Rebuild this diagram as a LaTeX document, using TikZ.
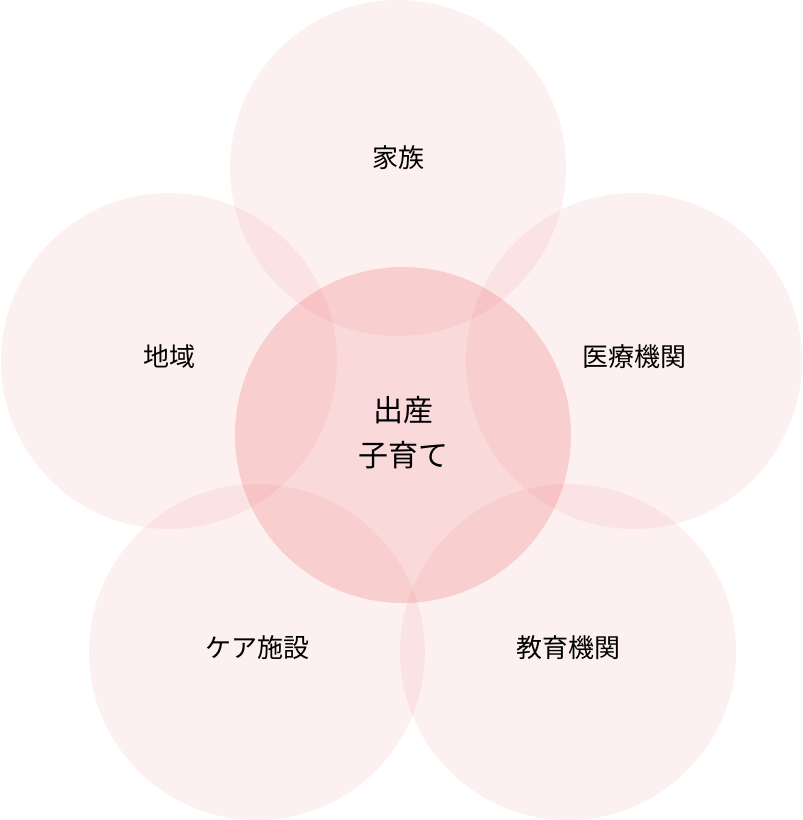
\documentclass[tikz,border=0pt]{standalone}
\usepackage{fontspec}
\setmainfont{Noto Sans CJK JP}
\definecolor{petal}{RGB}{232,84,88}
\begin{document}
\begin{tikzpicture}[x=1pt,y=-1pt,
  outer/.style={fill=petal,fill opacity=0.085,draw=none},
  inner/.style={fill=petal,fill opacity=0.22,draw=none},
  lbl/.style={font=\fontsize{26}{30}\selectfont,text=black,inner sep=0pt},
  clbl/.style={font=\fontsize{30}{45}\selectfont,text=black,inner sep=0pt,align=center}]
\useasboundingbox (0,0) rectangle (803,820);
\fill[outer] (398,168) circle (168);
\fill[outer] (169,361) circle (168);
\fill[outer] (634,361) circle (168);
\fill[outer] (257,652) circle (168);
\fill[outer] (568,652) circle (168);
\fill[inner] (403,435) circle (168);
\node[lbl] (kazoku) at (398,158) {家族};
\node[lbl] (chiiki) at (169,357) {地域};
\node[lbl] (iryo) at (634,357) {医療機関};
\node[lbl] (care) at (257,648) {ケア施設};
\node[lbl] (kyoiku) at (568,648) {教育機関};
\node[clbl] (center) at (403,433) {出産\\子育て};
\end{tikzpicture}
\end{document}
